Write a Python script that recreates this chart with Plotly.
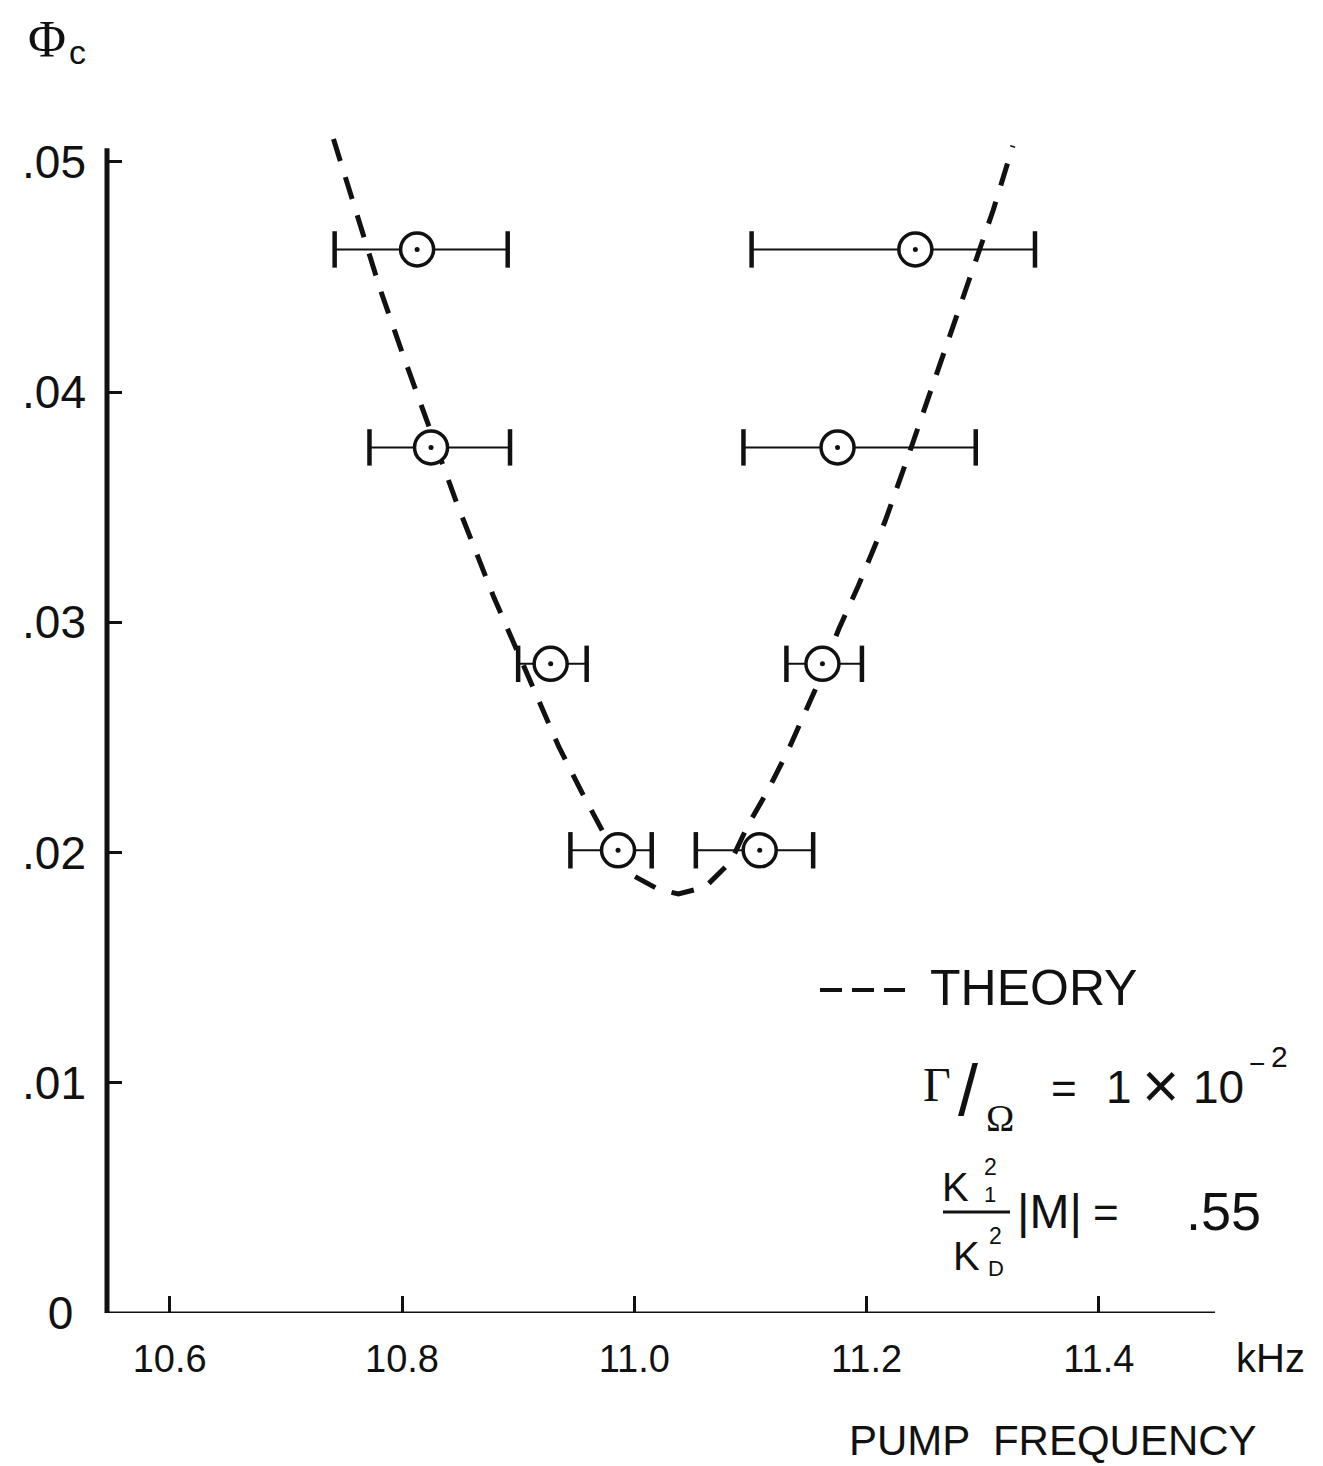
import plotly.graph_objects as go

# Measured threshold points: pump frequency (kHz) and critical amplitude
freq = [10.813, 10.825, 10.928, 10.986, 11.108, 11.162, 11.175, 11.242]
phi_c = [0.0462, 0.0376, 0.0282, 0.0201, 0.0201, 0.0282, 0.0376, 0.0462]
freq_low = [10.742, 10.772, 10.900, 10.945, 11.053, 11.131, 11.094, 11.101]
freq_high = [10.891, 10.893, 10.959, 11.015, 11.154, 11.196, 11.294, 11.345]

# Theoretical threshold curve
theory_freq = [10.741, 10.761, 10.781, 10.801, 10.822, 10.847, 10.879, 10.896,
               10.919, 10.935, 10.955, 10.973, 10.999, 11.021, 11.038, 11.061,
               11.083, 11.098, 11.115, 11.133, 11.156, 11.176, 11.193, 11.216,
               11.235, 11.255, 11.274, 11.292, 11.309, 11.326]
theory_phi = [0.0510, 0.0477, 0.0445, 0.0416, 0.0387, 0.0352, 0.0311, 0.0291,
              0.0265, 0.0246, 0.0226, 0.0209, 0.0190, 0.0184, 0.0182, 0.0185,
              0.0196, 0.0212, 0.0227, 0.0245, 0.0271, 0.0297, 0.0316, 0.0344,
              0.0371, 0.0400, 0.0428, 0.0455, 0.0479, 0.0507]

y_ticks = [0, 0.01, 0.02, 0.03, 0.04, 0.05]
y_ticktext = ["0&nbsp;", ".01", ".02", ".03", ".04", ".05"]
x_ticks = [10.6, 10.8, 11.0, 11.2, 11.4]
x_ticktext = ["10.6", "10.8", "11.0", "11.2", "11.4"]

W, H = 1323, 1466
ML, MR, MT, MB = 107, 108, 109, 153
PW, PH = W - ML - MR, H - MT - MB
INK = "#111111"
SANS = "Liberation Sans, Arial, sans-serif"
SERIF = "Liberation Serif, DejaVu Serif, serif"


def at(px, py):
    """Page pixel position -> paper fraction."""
    return (px - ML) / PW, (H - MB - py) / PH


err_plus = [h - f for h, f in zip(freq_high, freq)]
err_minus = [f - l for f, l in zip(freq, freq_low)]

fig = go.Figure()

fig.add_trace(go.Scatter(
    x=theory_freq, y=theory_phi, mode="lines", name="THEORY",
    line=dict(color=INK, width=5, dash="23px,17px"),
))

fig.add_trace(go.Scatter(
    x=freq, y=phi_c, mode="markers", showlegend=False,
    marker=dict(size=1, color="rgba(0,0,0,0)"),
    error_x=dict(type="data", array=err_plus, arrayminus=err_minus,
                 color=INK, thickness=2, width=0),
))

fig.add_trace(go.Scatter(
    x=freq_low + freq_high, y=phi_c + phi_c, mode="markers", showlegend=False,
    marker=dict(symbol="line-ns", size=26, line=dict(color=INK, width=4.5)),
))

fig.add_trace(go.Scatter(
    x=freq, y=phi_c, mode="markers", name="data", showlegend=False,
    marker=dict(symbol="circle", size=33, color="white",
                line=dict(color=INK, width=3.5)),
))

fig.add_trace(go.Scatter(
    x=freq, y=phi_c, mode="markers", showlegend=False,
    marker=dict(symbol="circle", size=5, color=INK),
))

shapes = [
    # axes
    dict(type="line", xref="paper", yref="y", x0=0, x1=0, y0=0, y1=0.0506,
         line=dict(color=INK, width=5)),
    dict(type="line", xref="paper", yref="y", x0=0, x1=1, y0=0, y1=0,
         line=dict(color=INK, width=3)),
]

# legend sample for the theory curve
lx0, ly = at(820, 990)
lx1, _ = at(905, 990)
shapes.append(dict(type="line", xref="paper", yref="paper", x0=lx0, x1=lx1,
                   y0=ly, y1=ly, line=dict(color=INK, width=4, dash="22px,10px")))

# fraction bar K1^2 / KD^2
fx0, fy = at(943, 1212)
fx1, _ = at(1010, 1212)
shapes.append(dict(type="line", xref="paper", yref="paper", x0=fx0, x1=fx1,
                   y0=fy, y1=fy, line=dict(color=INK, width=3)))

annotations = []


def label(text, px, py, size, xanchor="center", family=SANS):
    x, y = at(px, py)
    annotations.append(dict(text=text, x=x, y=y, xref="paper", yref="paper",
                            xanchor=xanchor, yanchor="middle", showarrow=False,
                            font=dict(size=size, color=INK, family=family)))


label("Φ", 47, 40, 52, family=SERIF)
label("c", 77, 52, 34)
label("kHz", 1270, 1358, 40)
label("PUMP  FREQUENCY", 1053, 1440, 42)
label("THEORY", 928, 988, 50, xanchor="left")
label("Γ", 937, 1084, 48, family=SERIF)
label("/", 968, 1090, 72)
label("Ω", 1000, 1118, 38, family=SERIF)
label("=", 1064, 1088, 44)
label("1", 1119, 1087, 46)
label("×", 1160, 1086, 64)
label("10", 1218, 1087, 46)
label("−", 1257, 1063, 28)
label("2", 1279, 1056, 30)
label("K", 955, 1187, 40)
label("2", 990, 1167, 23)
label("1", 990, 1194, 22)
label("K", 966, 1256, 40)
label("2", 995, 1236, 23)
label("D", 996, 1268, 22)
label("|M|", 1015, 1211, 48, xanchor="left")
label("=", 1106, 1212, 44)
label(".55", 1184, 1211, 54, xanchor="left")

fig.update_layout(
    width=W, height=H,
    margin=dict(l=ML, r=MR, t=MT, b=MB),
    paper_bgcolor="white", plot_bgcolor="white",
    showlegend=False,
    shapes=shapes, annotations=annotations,
    xaxis=dict(range=[10.546, 11.5], tickvals=x_ticks, ticktext=x_ticktext,
               ticks="inside", ticklen=17, tickwidth=2.5, tickcolor=INK,
               showgrid=False, zeroline=False, showline=False,
               ticklabelstandoff=20,
               tickfont=dict(size=38, color=INK, family=SANS)),
    yaxis=dict(range=[0, 0.0523], tickvals=y_ticks, ticktext=y_ticktext,
               ticks="inside", ticklen=15, tickwidth=2.5, tickcolor=INK,
               showgrid=False, zeroline=False, showline=False,
               ticklabelstandoff=20,
               tickfont=dict(size=46, color=INK, family=SANS)),
)

fig.write_html("out.html")
